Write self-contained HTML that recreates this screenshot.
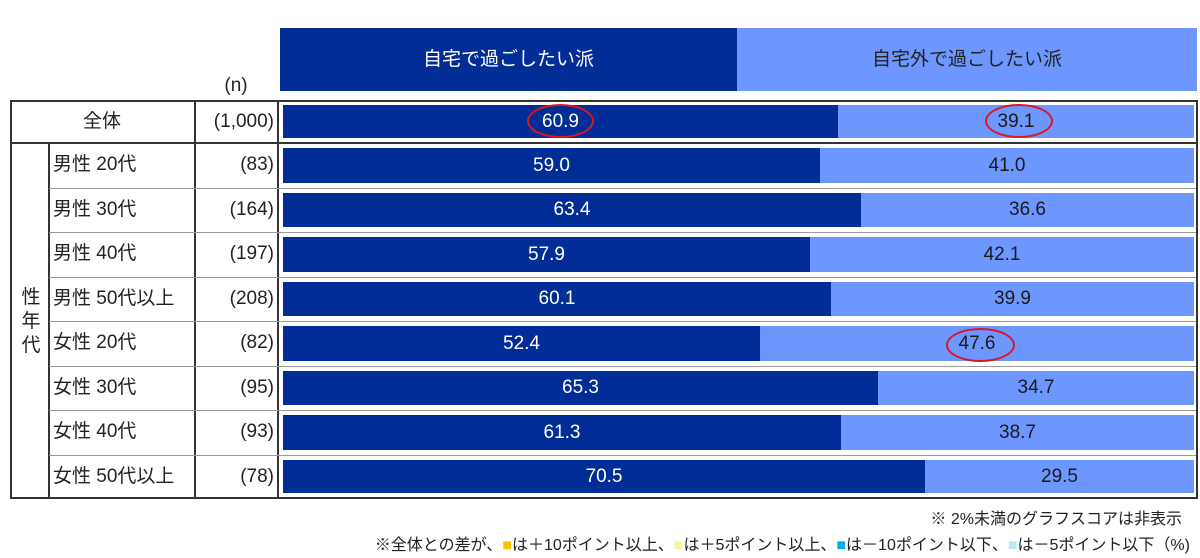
<!DOCTYPE html>
<html><head><meta charset="utf-8"><style>
body{margin:0;width:1200px;height:558px;background:#fff;position:relative;overflow:hidden;font-family:"Liberation Sans","Noto Sans CJK JP",sans-serif;color:#222}
div{position:absolute;box-sizing:border-box}
.t{font-size:19px;line-height:20px;white-space:nowrap}
.hl{height:1px;background:#999}
.vl{width:2px;background:#333}
.d{background:#002d96}
.l{background:#6e96ff}
.bv{font-size:19px;line-height:36px;text-align:center;color:#fff}
.lv{font-size:19px;line-height:36px;text-align:center;color:#1a1a1a}
.ell{border:2px solid #e0141e;border-radius:50%}
</style></head><body>
<div class="d" style="left:280px;top:28px;width:457px;height:63px"></div>
<div class="l" style="left:737px;top:28px;width:460px;height:63px"></div>
<div class="t" style="left:280px;top:50px;width:457px;text-align:center;color:#fff">自宅で過ごしたい派</div>
<div class="t" style="left:737px;top:50px;width:460px;text-align:center;color:#222">自宅外で過ごしたい派</div>
<div class="t" style="left:200px;top:76px;width:72px;text-align:center">(n)</div>
<div style="left:10px;top:100px;width:1188px;height:399px;border:2px solid #333"></div>
<div class="vl" style="left:48px;top:143px;height:355px"></div>
<div class="vl" style="left:194px;top:100px;height:398px"></div>
<div class="vl" style="left:277px;top:100px;height:398px"></div>
<div class="hl" style="left:10px;top:142px;width:1188px;height:2px;background:#333"></div>
<div id="rows"></div>
<div class="t" style="left:10px;top:112px;width:184px;text-align:center">全体</div>
<div class="t" style="left:196px;top:112px;width:78px;text-align:right">(1,000)</div>
<div class="t" style="left:16px;top:286px;width:30px;text-align:center;line-height:24px;white-space:normal">性<br>年<br>代</div>
<div class="ell" style="left:527px;top:104px;width:67px;height:34px"></div>
<div class="ell" style="left:985px;top:104px;width:68px;height:34px"></div>
<div class="ell" style="left:946px;top:328px;width:69px;height:34px"></div>
<div class="t" style="left:600px;top:510px;width:582px;text-align:right;font-size:16px">※ 2%未満のグラフスコアは非表示</div>
<div class="t" style="left:300px;top:536px;width:890px;text-align:right;font-size:16px">※全体との差が、<span style="color:#ffc000">■</span>は＋10ポイント以上、<span style="color:#fff59a">■</span>は＋5ポイント以上、<span style="color:#00b0f0">■</span>は－10ポイント以下、<span style="color:#bde4f8">■</span>は－5ポイント以下（%)</div>
<script>
var rows=[["全体","",60.9,100,143],["男性 20代","(83)",59.0],["男性 30代","(164)",63.4],["男性 40代","(197)",57.9],["男性 50代以上","(208)",60.1],["女性 20代","(82)",52.4],["女性 30代","(95)",65.3],["女性 40代","(93)",61.3],["女性 50代以上","(78)",70.5]];
var tops=[100,143,188,232,277,321,366,410,455,498];
var h="";
for(var i=0;i<rows.length;i++){
 var r=rows[i],t=tops[i],b=tops[i+1];
 var bt=t+5,bh=b-t-10;
 var w=Math.round(911*r[2]/100);
 h+='<div class="d bv" style="left:283px;top:'+bt+'px;width:'+w+'px;height:'+bh+'px;line-height:'+bh+'px">'+r[2].toFixed(1)+'</div>';
 h+='<div class="l lv" style="left:'+(283+w)+'px;top:'+bt+'px;width:'+(911-w)+'px;height:'+bh+'px;line-height:'+bh+'px">'+(100-r[2]).toFixed(1)+'</div>';
 if(i>0){
  if(i>1)h+='<div class="hl" style="left:49px;top:'+t+'px;width:1147px"></div>';
  h+='<div class="t" style="left:53px;top:'+(t+12)+'px">'+r[0]+'</div>';
  h+='<div class="t" style="left:196px;top:'+(t+12)+'px;width:78px;text-align:right">'+r[1]+'</div>';
 }
}
document.getElementById("rows").outerHTML=h;
</script>
</body></html>
